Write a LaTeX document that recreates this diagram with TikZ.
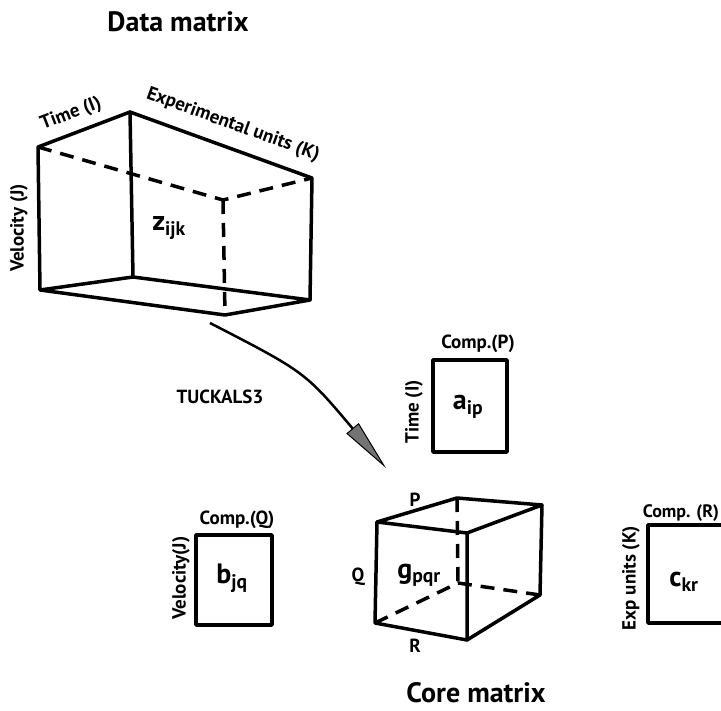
\documentclass[tikz,border=0pt]{standalone}
\usepackage{fontspec}
\setmainfont{PT Sans}
\usetikzlibrary{arrows.meta}
\tikzset{
    edge/.style={line width=3.5pt, line join=round, line cap=round},
    hidden/.style={line width=3.5pt, dash pattern=on 14pt off 9pt},
    lbl/.style={font=\fontsize{19}{19}\selectfont\bfseries, inner sep=0pt},
    entry/.style={font=\fontsize{28}{28}\selectfont\bfseries, inner sep=0pt},
    heading/.style={font=\fontsize{28}{28}\selectfont\bfseries, inner sep=0pt}
}
\begin{document}
\begin{tikzpicture}[x=1pt, y=-1pt]
    \useasboundingbox (0,0) rectangle (721,711);
    % data matrix
    \node[heading] (datatitle) at (178,22) {Data matrix};
    \coordinate (tl) at (38,147);  \coordinate (tf) at (130,112);
    \coordinate (tr) at (312,178); \coordinate (tb) at (223,200);
    \coordinate (bl) at (40,290);  \coordinate (bf) at (133,277);
    \coordinate (br) at (310,300); \coordinate (bb) at (225,315);
    \draw[edge] (bl) -- (tl) -- (tf) -- (tr) -- (br) -- (bf) -- (bl) -- (bb) -- (br);
    \draw[edge] (tf) -- (bf);
    \draw[hidden] (tl) -- (tb) -- (tr);
    \draw[hidden] (tb) -- (bb);
    \node[lbl, rotate=21] (timeI) at (71,114) {Time (I)};
    \node[lbl, rotate=-20] (expK) at (233,125) {Experimental units (K)};
    \node[lbl, rotate=90] (velJ) at (19,228) {Velocity (J)};
    \node[entry] (zijk) at (169,228) {z\textsubscript{ijk}};
    % decomposition
    \coordinate (arrS) at (210,323);
    \coordinate (arrE) at (386,468);
    \draw[line width=2.5pt, -{Triangle[length=52pt, width=16pt, fill=black!55, line width=1pt]}]
        (arrS) .. controls (305,372) .. (arrE);
    \node[font=\fontsize{19}{19}\selectfont\bfseries, inner sep=0pt] (tuck) at (220,397) {TUCKALS3};
    % component matrices
    \draw[edge] (433,360) rectangle (507,452);
    \node[lbl] (compP) at (478,344) {Comp.(P)};
    \node[lbl, rotate=90] (timeA) at (414,412) {Time (I)};
    \node[entry] (aip) at (468,407) {a\textsubscript{ip}};
    \draw[edge] (196,535) rectangle (272,625);
    \node[lbl] (compQ) at (237,520) {Comp.(Q)};
    \node[lbl, rotate=90] (velB) at (181,578) {Velocity(J)};
    \node[entry] (bjq) at (232,578) {b\textsubscript{jq}};
    \draw[edge] (722,525) -- (648,525) -- (648,623) -- (722,623);
    \node[lbl, font=\fontsize{18}{18}\selectfont\bfseries] (compR) at (681,513) {Comp. (R)};
    \node[lbl, rotate=90] (expC) at (631,578) {Exp units (K)};
    \node[entry] (ckr) at (684,582) {c\textsubscript{kr}};
    % core matrix
    \coordinate (ca) at (377,522); \coordinate (cb) at (467,533);
    \coordinate (cc) at (542,505); \coordinate (cd) at (457,498);
    \coordinate (ce) at (375,623); \coordinate (cf) at (467,640);
    \coordinate (cg) at (540,595); \coordinate (ch) at (458,583);
    \draw[edge] (ca) -- (cb) -- (cc) -- (cd) -- cycle;
    \draw[edge] (ca) -- (ce) -- (cf) -- (cb);
    \draw[edge] (cc) -- (cg) -- (cf);
    \draw[hidden] (cd) -- (ch);
    \draw[hidden] (ce) -- (ch) -- (cg);
    \node[lbl] (labP) at (415,500) {P};
    \node[lbl] (labQ) at (358,577) {Q};
    \node[lbl] (labR) at (415,646) {R};
    \node[entry] (gpqr) at (419,575) {g\textsubscript{pqr}};
    \node[heading] (coretitle) at (476,693) {Core matrix};
\end{tikzpicture}
\end{document}
